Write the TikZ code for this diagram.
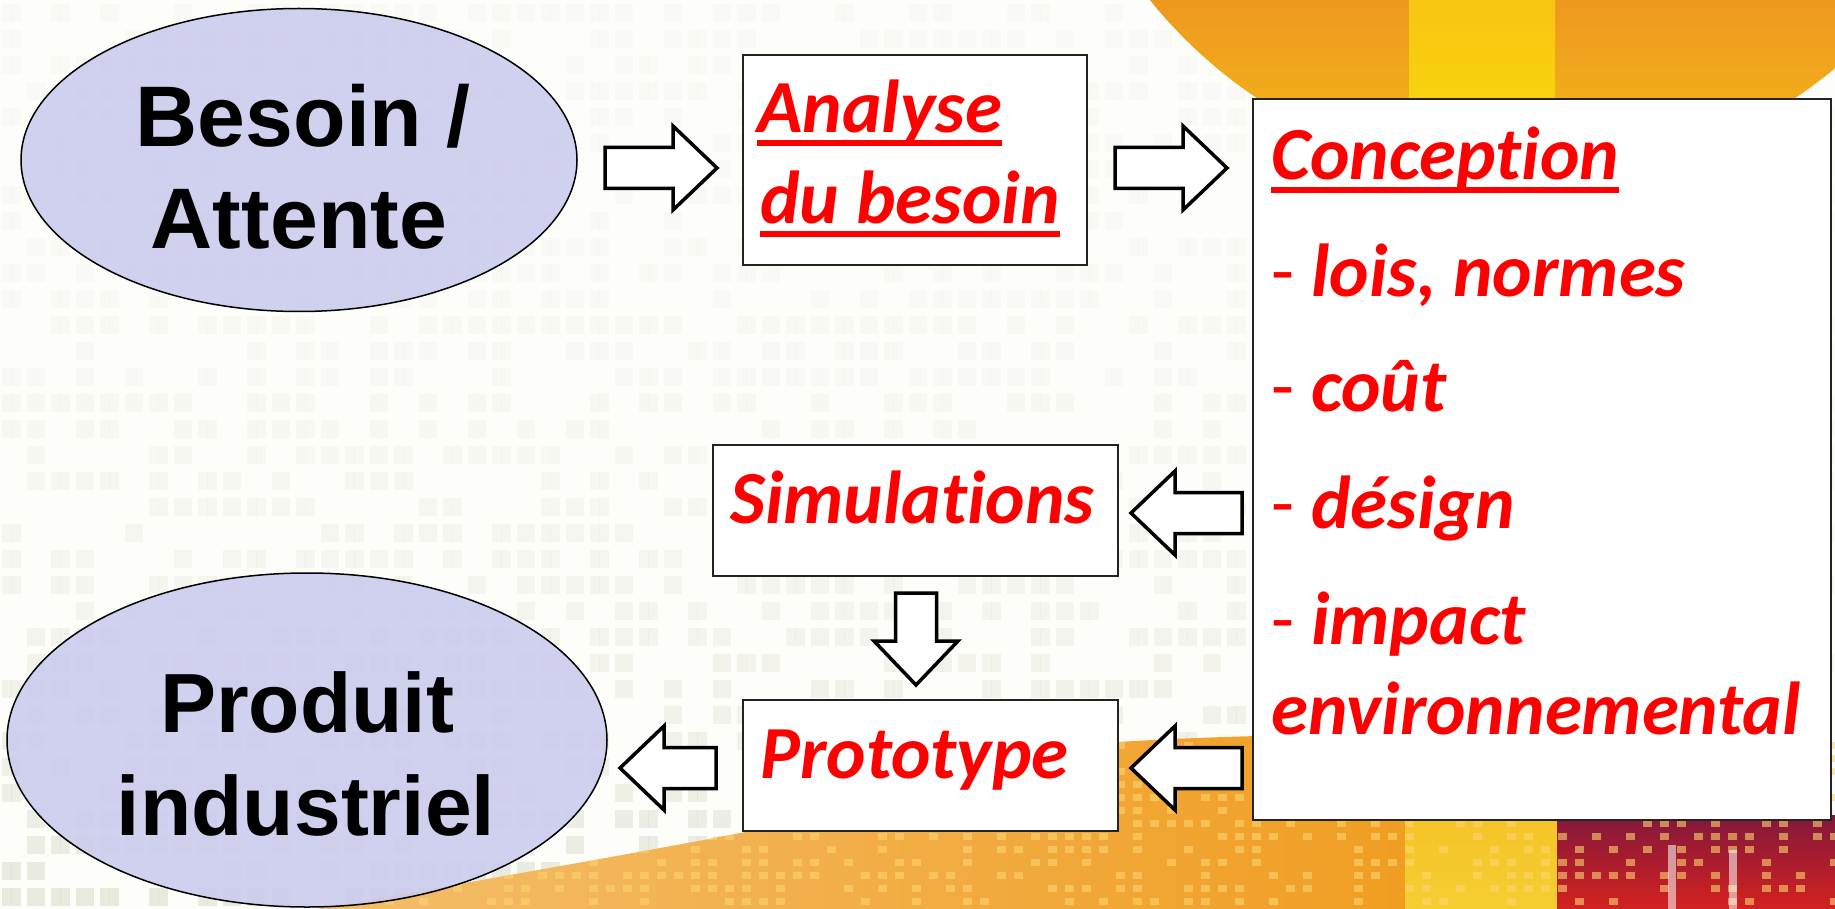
\documentclass[tikz,border=0pt]{standalone}
\usepackage{fontspec}
\setmainfont{Liberation Sans}
\newfontfamily\carl[Ligatures=NoCommon]{Carlito}
\usetikzlibrary{calc,shapes.geometric}

\definecolor{bgwhite}{RGB}{253,253,250}
\definecolor{lav}{RGB}{204,204,238}
\definecolor{txtred}{RGB}{255,0,0}
\definecolor{edge}{RGB}{35,35,35}
\definecolor{gridgray}{RGB}{222,224,208}
\definecolor{orA}{RGB}{238,150,32}
\definecolor{orB}{RGB}{246,190,22}
\definecolor{stripeA}{RGB}{247,196,18}
\definecolor{stripeB}{RGB}{250,222,10}
\definecolor{orC}{RGB}{240,158,34}
\definecolor{orLight}{RGB}{244,190,110}
\definecolor{sq}{RGB}{252,212,110}
\definecolor{redA}{RGB}{130,24,60}
\definecolor{redB}{RGB}{214,34,30}
\definecolor{yelA}{RGB}{243,186,30}
\definecolor{yelB}{RGB}{246,206,50}

% thick underline drawn under a word
\newcommand\myul[1]{\setbox0=\hbox{#1}\rlap{\rule[-0.18em]{\wd0}{0.09em}}\box0}
% upright, regular-weight list dash
\newcommand\dashmark{{\upshape\mdseries -}\space}

\tikzset{
  procbox/.style={draw=edge, line width=2pt, fill=white, inner sep=0pt, anchor=north west},
  oval/.style={ellipse, draw=black, line width=1.5pt, fill=lav, fill opacity=0.9, inner sep=0pt},
  bigtxt/.style={font=\bfseries\fontsize{86}{100}\selectfont, anchor=base, inner sep=0pt},
  redtxt/.style={text=txtred, font=\carl\bfseries\itshape\fontsize{75}{90}\selectfont,
                 anchor=base west, inner sep=0pt},
  % hollow block arrow from the start point to the tip
  blockarrow/.style={draw=black, line width=3.5pt, fill=white, line join=miter,
    to path={
      let \p1=(\tikztostart), \p2=(\tikztotarget),
          \n1={veclen(\x2-\x1,\y2-\y1)},
          \n2={(\x2-\x1)/\n1}, \n3={(\y2-\y1)/\n1}, \n4={\n1-44}
      in ({\x1-20.5*\n3},{\y1+20.5*\n2})
      -- ({\x1+\n4*\n2-20.5*\n3},{\y1+\n4*\n3+20.5*\n2})
      -- ({\x1+\n4*\n2-42*\n3},{\y1+\n4*\n3+42*\n2})
      -- (\p2)
      -- ({\x1+\n4*\n2+42*\n3},{\y1+\n4*\n3-42*\n2})
      -- ({\x1+\n4*\n2+20.5*\n3},{\y1+\n4*\n3-20.5*\n2})
      -- ({\x1+20.5*\n3},{\y1-20.5*\n2}) -- cycle
    }},
}

\begin{document}
\begin{tikzpicture}[x=1pt, y=-1pt]
\useasboundingbox (0,0) rectangle (1835,909);
\fill[bgwhite] (0,0) rectangle (1835,909);

% faint mosaic of small tiles
\pgfmathsetseed{12}
\foreach \i in {0,...,74}{
  \foreach \j in {0,...,34}{
    \pgfmathsetmacro\rr{rnd}
    \pgfmathsetmacro\op{0.1+0.55*(\j/34)^3}
    \ifdim\rr pt<0.6pt
      \fill[gridgray, opacity=\op] (\i*24.5+2, \j*26+4) rectangle ++(9.5,18);
      \fill[gridgray, opacity=\op] (\i*24.5+11, \j*26+4) rectangle ++(9.5,18);
    \fi
  }
}

% sun disc, upper right
\begin{scope}
  \clip (1526,-303) circle[radius=483pt];
  \shade[top color=orA, bottom color=orB] (1000,-10) rectangle (1840,190);
  \shade[top color=stripeA, bottom color=stripeB] (1409,-10) rectangle (1555,190);
\end{scope}

% warm band along the bottom
\begin{scope}
  \clip (300,912) .. controls (620,855) and (960,800) .. (1118,742)
        .. controls (1180,738) and (1250,736) .. (1300,735) -- (1840,735) -- (1840,912) -- cycle;
  \shade[left color=orLight, right color=orC] (290,730) rectangle (1405,912);
  \shade[top color=yelA, bottom color=yelB] (1405,730) rectangle (1557,912);
  \shade[top color=redA, bottom color=redB] (1557,815) rectangle (1840,912);
  \pgfmathsetseed{5}
  \foreach \i in {0,...,90}{
    \foreach \j in {0,...,13}{
      \pgfmathsetmacro\rr{rnd}
      \ifdim\rr pt<0.5pt
        \fill[sq, opacity=0.6] (300+\i*17, 742+\j*13) rectangle ++(9,7);
      \fi
    }
  }
  \fill[white, opacity=0.55] (1668,845) rectangle (1676,912);
  \fill[white, opacity=0.55] (1729,850) rectangle (1737,912);
\end{scope}

% process boxes and ovals
\node[procbox, minimum width=344, minimum height=210] (analyse) at (742,54) {};
\node[procbox, minimum width=578, minimum height=721] (conc) at (1252,98) {};
\node[procbox, minimum width=405, minimum height=131] (simu) at (712,444) {};
\node[procbox, minimum width=375, minimum height=131] (proto) at (742,699) {};
\node[oval, minimum width=556, minimum height=303] (besoin) at (299,160) {};
\node[oval, minimum width=600, minimum height=334] (produit) at (307,740) {};

% texts
\node[bigtxt] (besoinA) at (303,147) {Besoin /};
\node[bigtxt] (besoinB) at (299,248) {Attente};
\node[bigtxt, font=\bfseries\fontsize{84}{100}\selectfont] (produitA) at (307,732) {Produit};
\node[bigtxt, font=\bfseries\fontsize{84}{100}\selectfont] (produitB) at (306,835) {industriel};

\node[redtxt] (anaA) at (757,133) {\myul{Analyse}};
\node[redtxt] (anaB) at (760,224) {\myul{du besoin}};

\node[redtxt] (c0) at (1271,180) {\myul{Conception}};
\node[redtxt] (c1) at (1271,296) {\dashmark lois, normes};
\node[redtxt] (c2) at (1271,411) {\dashmark coût};
\node[redtxt] (c3) at (1271,528) {\dashmark désign};
\node[redtxt] (c4) at (1271,644) {\dashmark impact};
\node[redtxt] (c5) at (1271,734) {environnemental};

\node[redtxt] (simuT) at (730,523) {Simulations};
\node[redtxt] (protoT) at (760,778) {Prototype};

% arrow end points
\coordinate (a1s) at (605,168);  \coordinate (a1e) at (717,168);
\coordinate (a2s) at (1115,168); \coordinate (a2e) at (1227,168);
\coordinate (a3s) at (1242,513); \coordinate (a3e) at (1131,513);
\coordinate (a4s) at (1242,768); \coordinate (a4e) at (1131,768);
\coordinate (a5s) at (916,593);  \coordinate (a5e) at (916,685);
\coordinate (a6s) at (716,768);  \coordinate (a6e) at (620,768);

% flow arrows
\draw[blockarrow] (a1s) to (a1e);
\draw[blockarrow] (a2s) to (a2e);
\draw[blockarrow] (a3s) to (a3e);
\draw[blockarrow] (a4s) to (a4e);
\draw[blockarrow] (a5s) to (a5e);
\draw[blockarrow] (a6s) to (a6e);
\end{tikzpicture}
\end{document}
